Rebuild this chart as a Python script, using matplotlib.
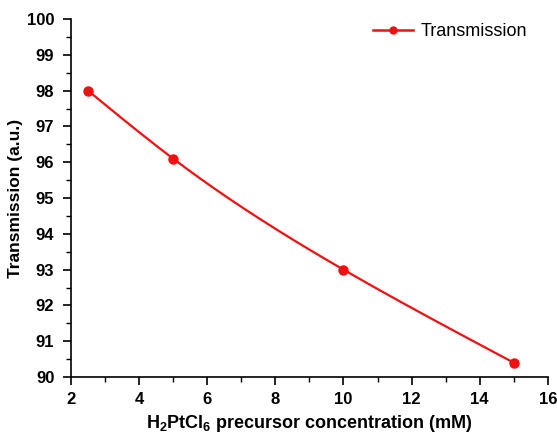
import numpy as np
import matplotlib
matplotlib.use('Agg')
import matplotlib.pyplot as plt
from matplotlib.ticker import MultipleLocator

# data
conc = [2.5, 5, 10, 15]
transmission = [98.0, 96.1, 93.0, 90.4]

plt.rcParams['font.family'] = ['Liberation Sans', 'DejaVu Sans']
plt.rcParams['mathtext.fontset'] = 'custom'
plt.rcParams['mathtext.rm'] = 'Liberation Sans'
plt.rcParams['mathtext.bf'] = 'Liberation Sans:bold'


def natural_spline(x, y, n=200):
    # simple natural cubic spline, like the smoothed line in Origin
    x = np.asarray(x, float)
    y = np.asarray(y, float)
    k = len(x)
    h = np.diff(x)
    A = np.zeros((k, k))
    b = np.zeros(k)
    A[0, 0] = A[-1, -1] = 1
    for i in range(1, k - 1):
        A[i, i - 1] = h[i - 1]
        A[i, i] = 2 * (h[i - 1] + h[i])
        A[i, i + 1] = h[i]
        b[i] = 3 * ((y[i + 1] - y[i]) / h[i] - (y[i] - y[i - 1]) / h[i - 1])
    c = np.linalg.solve(A, b)
    xs = np.linspace(x[0], x[-1], n)
    ys = np.empty_like(xs)
    for j, xv in enumerate(xs):
        i = min(np.searchsorted(x, xv, side='right') - 1, k - 2)
        dx = xv - x[i]
        bi = (y[i + 1] - y[i]) / h[i] - h[i] * (2 * c[i] + c[i + 1]) / 3
        di = (c[i + 1] - c[i]) / (3 * h[i])
        ys[j] = y[i] + bi * dx + c[i] * dx ** 2 + di * dx ** 3
    return xs, ys


fig = plt.figure(figsize=(5.57, 4.37), dpi=100)
ax = fig.add_axes([0.1275, 0.1373, 0.856, 0.819])

red = '#ee1111'
xs, ys = natural_spline(conc, transmission)
ax.plot(xs, ys, color=red, lw=1.6)
ax.plot(conc, transmission, 'o', color=red, ms=6.5)
# proxy for legend
ax.plot([], [], '-o', color=red, lw=1.8, ms=5, label='Transmission')

ax.set_xlim(2, 16)
ax.set_ylim(90, 100)
ax.xaxis.set_major_locator(MultipleLocator(2))
ax.xaxis.set_minor_locator(MultipleLocator(1))
ax.yaxis.set_major_locator(MultipleLocator(1))
ax.yaxis.set_minor_locator(MultipleLocator(0.5))
ax.tick_params(which='major', direction='out', length=6, width=1.2, labelsize=12)
ax.tick_params(axis='x', which='major', pad=5)
ax.tick_params(axis='y', which='major', pad=6)
ax.tick_params(which='minor', direction='out', length=3.5, width=1)
for lbl in ax.get_xticklabels() + ax.get_yticklabels():
    lbl.set_fontweight('bold')

for s in ['top', 'right']:
    ax.spines[s].set_visible(False)
for s in ['left', 'bottom']:
    ax.spines[s].set_linewidth(1.2)

ax.set_xlabel(r'H$_\mathbf{2}$PtCl$_\mathbf{6}$ precursor concentration (mM)',
              fontsize=13, fontweight='bold', labelpad=4)
ax.set_ylabel('Transmission (a.u.)', fontsize=12.5, fontweight='bold', labelpad=3)

ax.legend(loc='upper right', frameon=False, fontsize=13, handlelength=2.2,
          handletextpad=0.4, bbox_to_anchor=(0.975, 0.984),
          bbox_transform=fig.transFigure)

fig.savefig('out.png', dpi=100)
